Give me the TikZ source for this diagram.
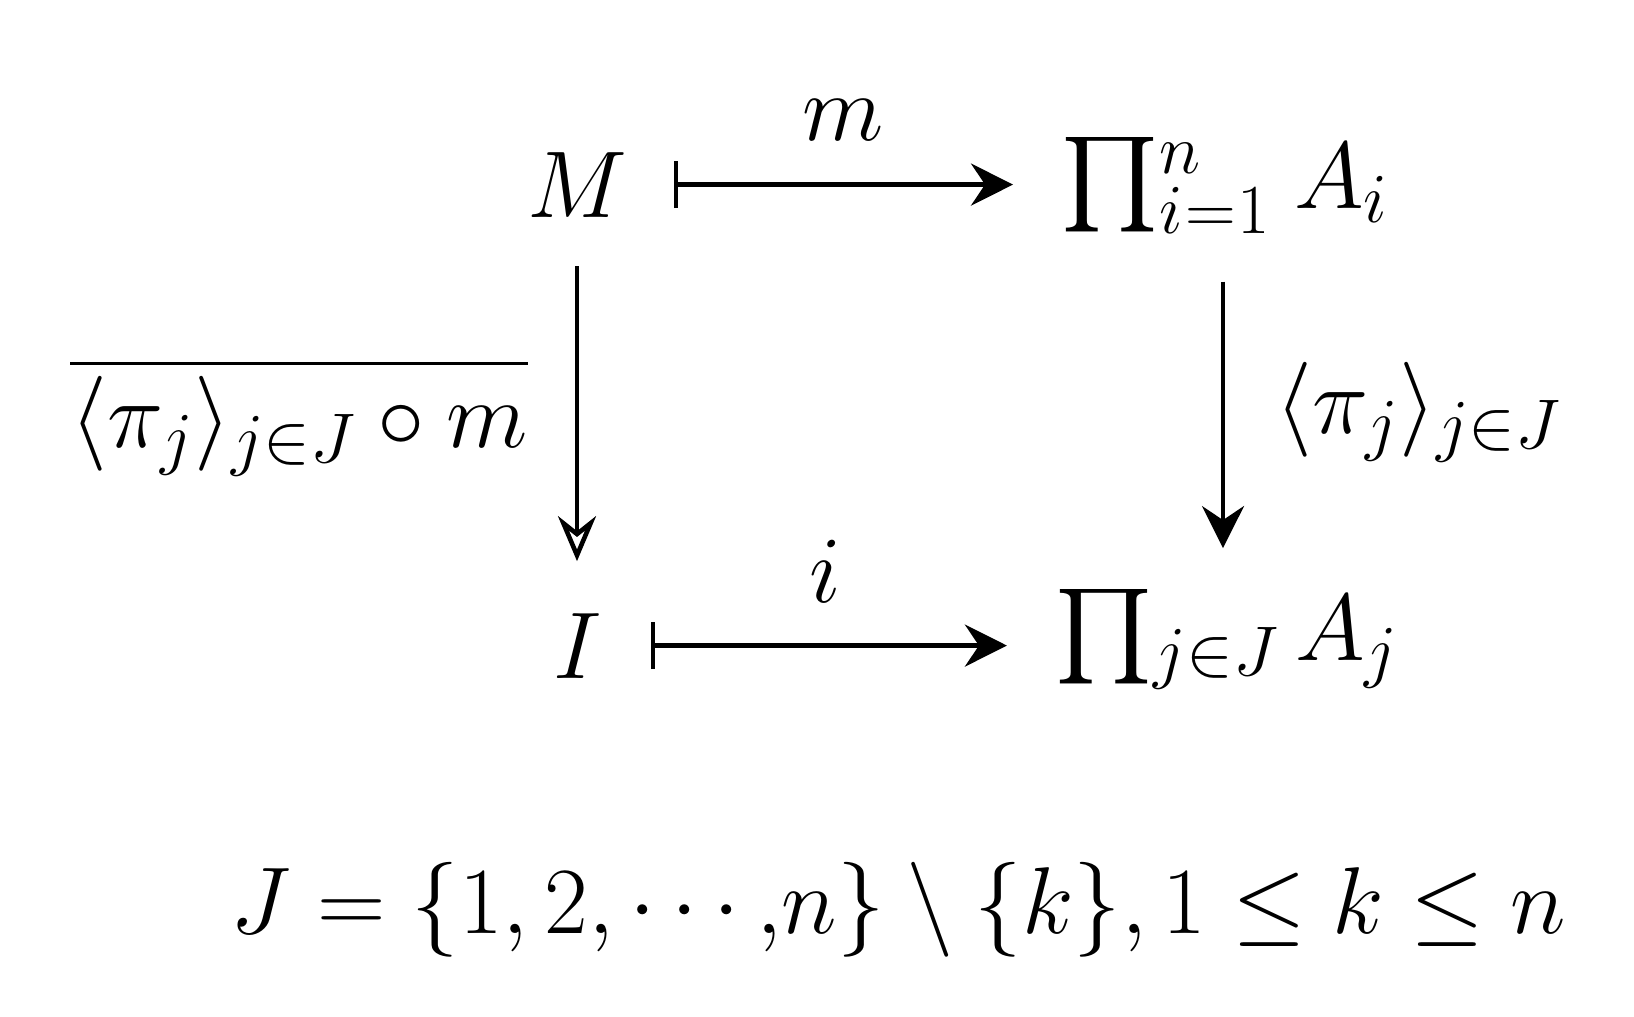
\RequirePackage{fix-cm}
\documentclass[tikz,border=0pt]{standalone}
\usepackage{amsmath}
\usepackage{exscale}
\usepackage{graphicx}
\usetikzlibrary{arrows.meta}
\DeclareMathSizes{27}{27}{20}{15}
\newcommand{\prodglyph}{\vcenter{\hbox{\scalebox{1.2}[1.08]{$\prod$}}}}
\newcommand{\myprod}{\mathop{\smash{\prodglyph}}\nolimits}
\tikzset{
  obj/.style={inner sep=0pt, outer sep=0pt, anchor=base, font=\fontsize{27}{32}\selectfont},
  mapsto/.style={line width=1.3pt, {Bar[width=0.47cm]}-{Stealth[length=0.42cm,width=0.42cm,inset=0.14cm]}},
  plain/.style={line width=1.3pt, -{Stealth[length=0.42cm,width=0.42cm,inset=0.14cm]}},
  epi/.style={line width=1.3pt, -{Stealth[open,length=0.45cm,width=0.38cm,inset=0.15cm]}},
}
\begin{document}
\begin{tikzpicture}
\useasboundingbox (0,0) rectangle (16.34,-10.16);
\node[obj] (M) at (5.77,-2.17) {$M$};
\node[obj] (P1) at (12.17,-2.08) {$\vphantom{\prodglyph}\myprod_{i\mkern0.5mu=\mkern0.5mu1}^{n}\mkern1.2mu A_i$};
\node[obj] (I) at (5.775,-6.78) {$I$};
\node[obj] (P2) at (12.19,-6.60) {$\vphantom{\prodglyph}\myprod_{j\in J} A_j$};
\node[obj] (lm) at (8.43,-1.40) {$m$};
\node[obj] (li) at (8.25,-6.02) {$i$};
\node[obj] (ll) at (2.99,-4.47) {$\overline{\langle\pi_j\rangle_{j\in J}\circ m}$};
\node[obj] (lr) at (14.19,-4.33) {$\langle\pi_j\rangle_{j\in J}$};
\node[obj] (eq) at (8.985,-9.33) {$J=\{1,2,\cdots{,}n\}\setminus\{k\},1\leq k\leq n$};
\draw[mapsto, shorten <=0.47cm, shorten >=0.32cm] (M.east) -- (M.east -| P1.west);
\draw[mapsto, shorten <=0.49cm, shorten >=0.32cm] (I.east) -- (I.east -| P2.west);
\draw[epi, shorten <=0.49cm, shorten >=0.52cm] (M.south) -- (M.south |- I.north);
\draw[plain, shorten <=0.48cm, shorten >=0.41cm] ([xshift=0.06cm]P1.south) -- ([xshift=0.06cm]P1.south |- P2.north);
\end{tikzpicture}
\end{document}
